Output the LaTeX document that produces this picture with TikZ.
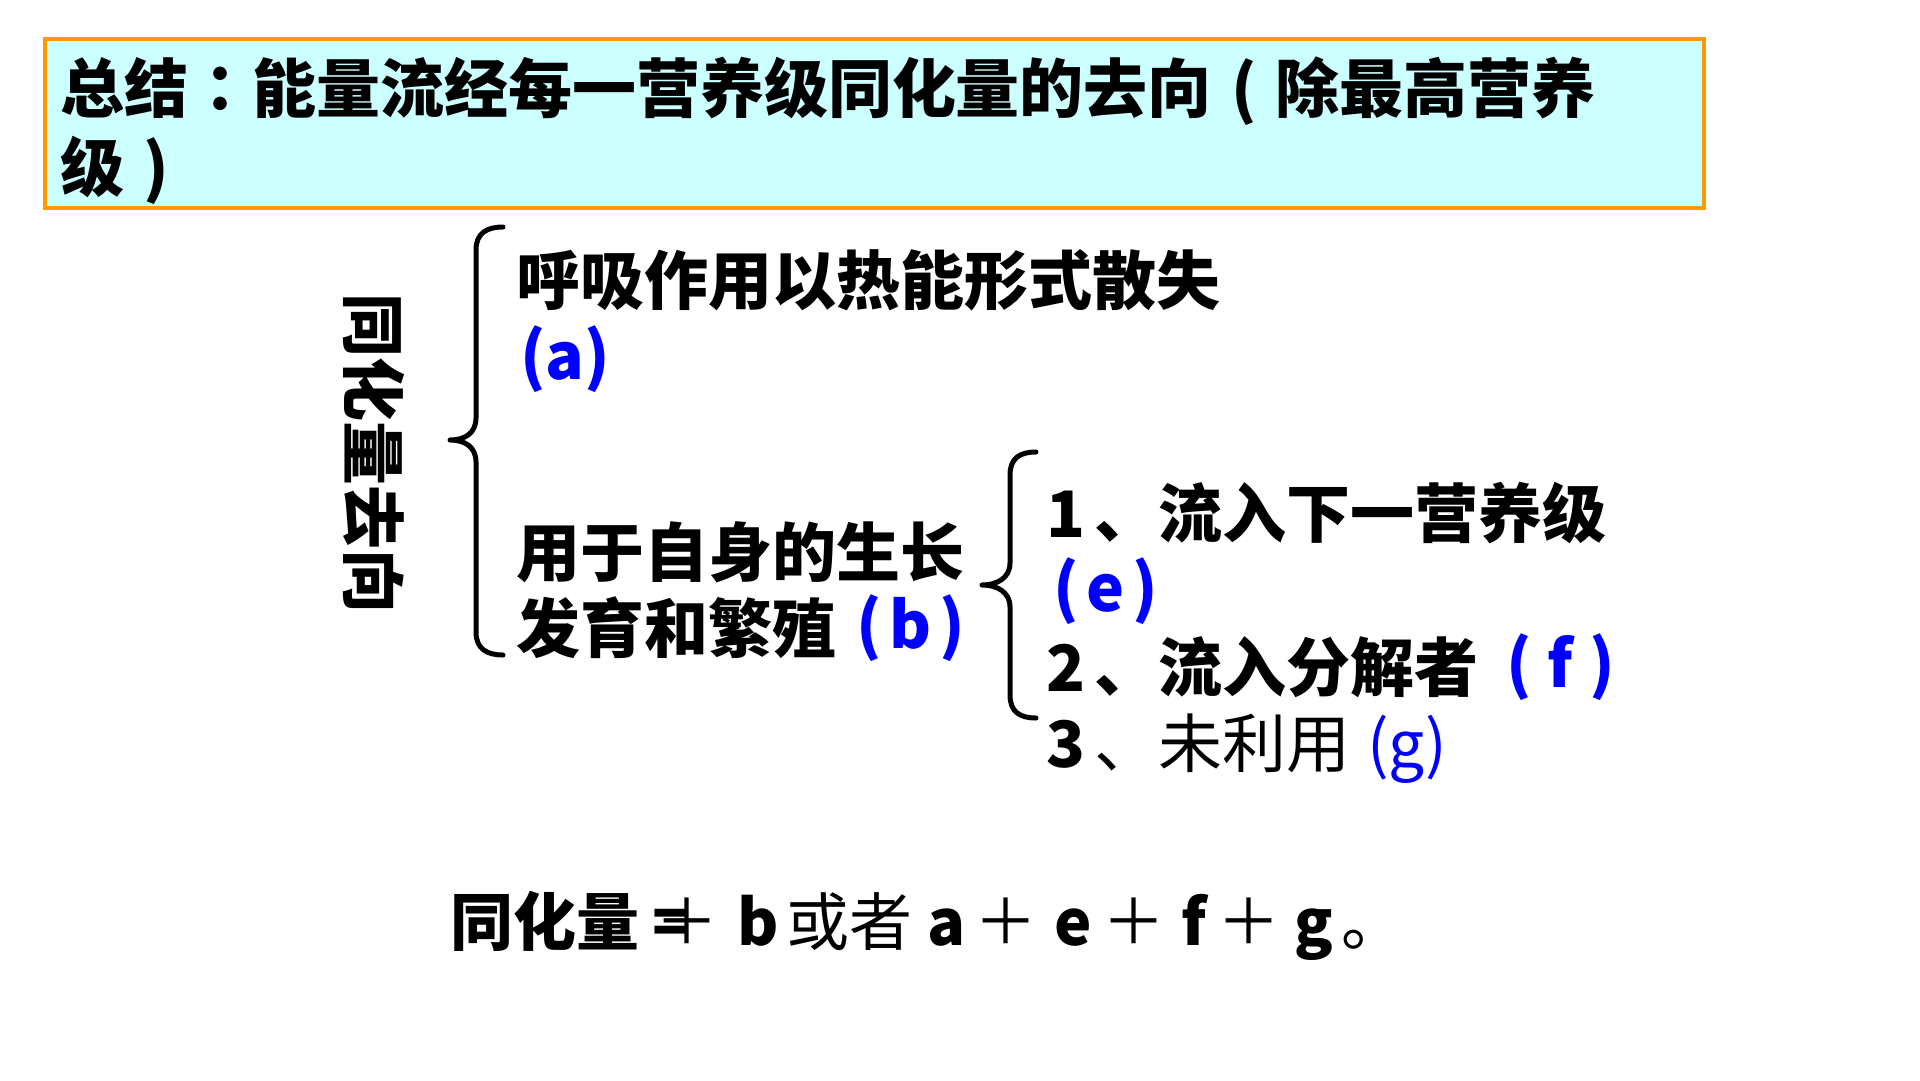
\documentclass[tikz,border=0pt]{standalone}
\usepackage{fontspec}
\setmainfont{Noto Sans CJK SC}
\newfontfamily\tcp{Noto Sans CJK TC}
\definecolor{titlefill}{HTML}{CCFFFF}
\definecolor{titleline}{HTML}{FF9900}
\definecolor{labelblue}{HTML}{0000FF}
\tikzset{
  txt/.style={inner sep=0pt, outer sep=0pt, anchor=west, font=\fontsize{64}{76}\selectfont\bfseries},
  lbl/.style={txt, text=labelblue},
  lblr/.style={inner sep=0pt, outer sep=0pt, anchor=west, text=labelblue, font=\fontsize{64}{76}\selectfont},
  btm/.style={inner sep=0pt, outer sep=0pt, anchor=base west, font=\fontsize{63}{76}\selectfont\bfseries},
  btmr/.style={inner sep=0pt, outer sep=0pt, anchor=base west, font=\fontsize{63}{76}\selectfont},
  sym/.style={inner sep=0pt, outer sep=0pt, anchor=center, font=\fontsize{63}{76}\selectfont},
  titlebox/.style={draw=titleline, fill=titlefill, line width=4pt},
  bracepath/.style={line width=5pt, line cap=round, line join=round},
}
\begin{document}
\begin{tikzpicture}[x=1pt,y=-1pt]
\fill[white] (0,0) rectangle (1920,1080);
\useasboundingbox (0,0) rectangle (1920,1080);

% title
\draw[titlebox] (45,39) rectangle (1704,208);
\node[txt] (t1) at (60,91) {总结{\tcp ：}能量流经每一营养级同化量的去向\makebox[1em][c]{(}除最高营养};
\node[txt] (t2) at (60,170) {级\makebox[1em][c]{)}};

% vertical label
\node[txt, anchor=center, rotate=-90] (vt) at (374,453) {同化量去向};

% brace 1
\draw[bracepath] (503,227) .. controls (487,227) and (476,233) .. (476,250) -- (476,418)
  .. controls (476,433) and (465,440) .. (450,440)
  .. controls (465,440) and (476,447) .. (476,462) -- (476,632)
  .. controls (476,649) and (487,655) .. (503,655);

% brace 2
\draw[bracepath] (1036,452) .. controls (1020,452) and (1010,458) .. (1010,475) -- (1010,563)
  .. controls (1010,578) and (997,585) .. (982,585)
  .. controls (997,585) and (1010,592) .. (1010,607) -- (1010,695)
  .. controls (1010,712) and (1020,718) .. (1036,718);

% first level
\node[txt] (ra) at (516,280) {呼吸作用以热能形式散失};
\node[lbl] (la) at (520,359) {(a)};
\node[txt] (rb1) at (516,552) {用于自身的生长};
\node[txt] (rb2) at (516,628) {发育和繁殖};
\node[lbl] (lb) at (856,628) {(\kern8pt b\kern8pt)};

% second level
\node[txt] (r1) at (1046,513) {1\kern10pt、流入下一营养级};
\node[lbl] (le) at (1053,591) {(\kern8pt e\kern8pt)};
\node[txt] (r2) at (1046,667) {2\kern10pt、流入分解者};
\node[lbl] (lf) at (1506,667) {(\kern16pt f\kern16pt)};
\node[txt] (r3) at (1046,743) {3{\mdseries\kern10pt、未利用}};
\node[lblr] (lg) at (1367,749) {(g)};

% bottom formula
\node[btm] (s1) at (450,945) {同化量};
\node[sym, font=\fontsize{63}{76}\selectfont\bfseries] (eq) at (672,927.5) {=};
\node[sym] (p0) at (687,921.5) {＋};
\node[btm] (vb) at (737,945) {b};
\node[btmr] (huo) at (786,945) {或者};
\node[btm] (va) at (927,945) {a};
\node[sym] (p1) at (1006,921.5) {＋};
\node[btm] (ve) at (1054,945) {e};
\node[sym] (p2) at (1134,921.5) {＋};
\node[btm] (vf) at (1181,945) {f};
\node[sym] (p3) at (1249,921.5) {＋};
\node[btm] (vg) at (1294,945) {g};
\node[btmr] (dot) at (1341,945) {。};
\end{tikzpicture}
\end{document}
